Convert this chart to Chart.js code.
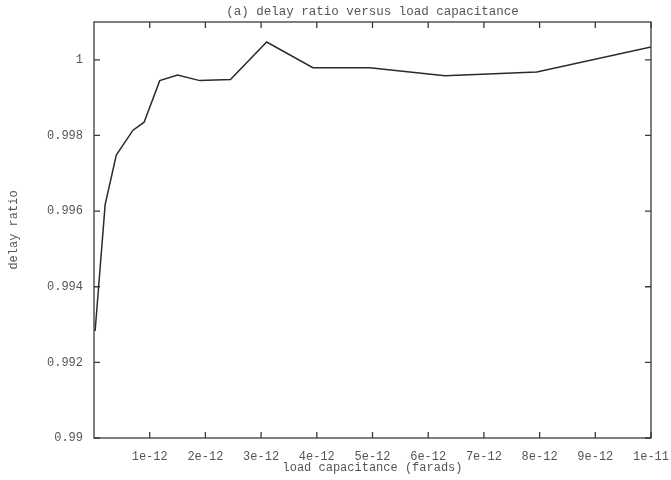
<!DOCTYPE html>
<html>
<head>
<meta charset="utf-8">
<title>delay ratio versus load capacitance</title>
<style>
  html, body { margin: 0; padding: 0; background: #fff; }
  #wrap { width: 671px; height: 480px; }
</style>
<script src="https://cdn.jsdelivr.net/npm/chart.js@4/dist/chart.umd.min.js"></script>
</head>
<body>
<div id="wrap"><canvas id="delayChart" width="671" height="480"></canvas></div>
<script>
// 负载电容 (F) 与延迟比
const capacitance = [0.02e-12, 0.2e-12, 0.4e-12, 0.7e-12, 0.9e-12, 1.18e-12, 1.5e-12, 1.9e-12,
  2.45e-12, 3.1e-12, 3.93e-12, 4.95e-12, 6.3e-12, 7.95e-12, 1e-11];
const delayRatio = [0.99283, 0.99617, 0.99748, 0.99814, 0.99835, 0.99945, 0.9996, 0.99945,
  0.99948, 1.00047, 0.99979, 0.99979, 0.99958, 0.99968, 1.00034];

// 刻度
const xTickValues = [1e-12, 2e-12, 3e-12, 4e-12, 5e-12, 6e-12, 7e-12, 8e-12, 9e-12, 1e-11];
const xTickLabels = ['1e-12', '2e-12', '3e-12', '4e-12', '5e-12', '6e-12', '7e-12', '8e-12', '9e-12', '1e-11'];
const yTickValues = [0.99, 0.992, 0.994, 0.996, 0.998, 1.0];
const yTickLabels = ['0.99', '0.992', '0.994', '0.996', '0.998', '1'];

const TITLE = '(a) delay ratio versus load capacitance';
const MONO = '"Liberation Mono", "DejaVu Sans Mono", monospace';
const TEXT_COLOR = '#555';
const AXIS_COLOR = '#3a3a3a';

// 边框、向内的刻度线（上下左右都画）以及居中于绘图区的标题
const frameTicks = {
  id: 'frameTicks',
  afterDatasetsDraw(chart) {
    const { ctx, chartArea: a, scales: { x, y } } = chart;
    const len = 6;
    ctx.save();
    ctx.strokeStyle = AXIS_COLOR;
    ctx.lineWidth = 1.3;
    ctx.strokeRect(a.left, a.top, a.right - a.left, a.bottom - a.top);
    ctx.beginPath();
    xTickValues.forEach(v => {
      const px = x.getPixelForValue(v);
      ctx.moveTo(px, a.bottom);
      ctx.lineTo(px, a.bottom - len);
      ctx.moveTo(px, a.top);
      ctx.lineTo(px, a.top + len);
    });
    yTickValues.forEach(v => {
      const py = y.getPixelForValue(v);
      ctx.moveTo(a.left, py);
      ctx.lineTo(a.left + len, py);
      ctx.moveTo(a.right, py);
      ctx.lineTo(a.right - len, py);
    });
    ctx.stroke();

    ctx.fillStyle = TEXT_COLOR;
    ctx.font = '12.5px ' + MONO;
    ctx.textAlign = 'center';
    ctx.textBaseline = 'middle';
    ctx.fillText(TITLE, (a.left + a.right) / 2, 12);
    ctx.restore();
  }
};

class DelayRatioChart {
  constructor() {
    this.chart = null;
    this.init();
  }

  init() {
    const ctx = document.getElementById('delayChart').getContext('2d');
    if (!ctx) {return;}

    this.chart = new Chart(ctx, {
      type: 'line',
      data: {
        datasets: [{
          label: 'delay ratio',
          data: capacitance.map((c, i) => ({ x: c, y: delayRatio[i] })),
          borderColor: '#2b2b2b',
          borderWidth: 1.5,
          pointRadius: 0,
          tension: 0,
          fill: false
        }]
      },
      options: {
        responsive: false,
        animation: false,
        layout: { padding: { left: 0, right: 0, top: 22, bottom: 0 } },
        plugins: {
          legend: { display: false },
          tooltip: { enabled: false },
          title: { display: false }
        },
        scales: {
          x: {
            type: 'linear',
            min: 0,
            max: 1e-11,
            grid: { display: false, drawTicks: false },
            border: { display: false },
            afterBuildTicks: scale => {
              scale.ticks = xTickValues.map(v => ({ value: v }));
            },
            afterFit: scale => {
              scale.height = 42;
              // 右侧只留 20px 给最后一个刻度标签
              scale.paddingRight = 20;
            },
            ticks: {
              padding: 12,
              maxRotation: 0,
              autoSkip: false,
              color: TEXT_COLOR,
              font: { family: MONO, size: 12 },
              callback: (value, index) => xTickLabels[index]
            },
            title: {
              display: true,
              text: 'load capacitance (farads)',
              color: TEXT_COLOR,
              font: { family: MONO, size: 12 },
              padding: { top: 0, bottom: 5 }
            }
          },
          y: {
            type: 'linear',
            min: 0.99,
            max: 1.001,
            grid: { display: false, drawTicks: false },
            border: { display: false },
            afterBuildTicks: scale => {
              scale.ticks = yTickValues.map(v => ({ value: v }));
            },
            afterFit: scale => { scale.width = 94; },
            ticks: {
              padding: 11,
              autoSkip: false,
              color: TEXT_COLOR,
              font: { family: MONO, size: 12 },
              callback: (value, index) => yTickLabels[index]
            },
            title: {
              display: true,
              text: 'delay ratio',
              color: TEXT_COLOR,
              font: { family: MONO, size: 12 },
              padding: { top: 7, bottom: 0 }
            }
          }
        }
      },
      plugins: [frameTicks]
    });
  }
}

document.addEventListener('DOMContentLoaded', () => {
  new DelayRatioChart();
});
</script>
</body>
</html>
